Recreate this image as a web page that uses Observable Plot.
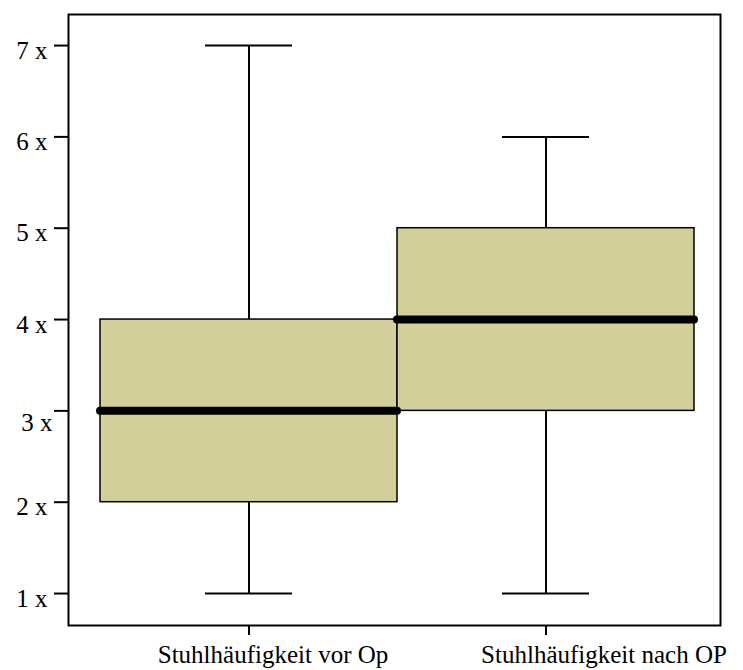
<!DOCTYPE html>
<html><head><meta charset="utf-8">
<script src="https://cdn.jsdelivr.net/npm/d3@7"></script>
<script src="https://cdn.jsdelivr.net/npm/@observablehq/plot@0.6"></script>
<style>body{margin:0;background:#fff}</style>
</head><body><div id="chart"></div>
<script>
const categories = ["Stuhlhäufigkeit vor Op", "Stuhlhäufigkeit nach OP"];
const mins = [1, 1];
const q1s = [2, 3];
const medians = [3, 4];
const q3s = [4, 5];
const maxs = [7, 6];
const yTicks = [1, 2, 3, 4, 5, 6, 7];

const data = categories.map((c, i) => ({cat: c, min: mins[i], q1: q1s[i], med: medians[i], q3: q3s[i], max: maxs[i]}));
const fmt = d => d + " x";

const chart = Plot.plot({
  width: 743, height: 670,
  marginLeft: 68, marginRight: 23, marginTop: 14, marginBottom: 45,
  style: {fontFamily: "'Liberation Serif', 'Times New Roman', serif", fontSize: "25px", background: "#fff", color: "#000"},
  x: {domain: categories, padding: 0, range: [100, 694]},
  y: {domain: [0.65, 7.34]},
  marks: [
    Plot.ruleX(data, {x: "cat", y1: "min", y2: "max", stroke: "#000", strokeWidth: 2}),
    Plot.tickY(data, {x: "cat", y: "min", stroke: "#000", strokeWidth: 2, insetLeft: 105, insetRight: 105}),
    Plot.tickY(data, {x: "cat", y: "max", stroke: "#000", strokeWidth: 2, insetLeft: 105, insetRight: 105}),
    Plot.barY(data, {x: "cat", y1: "q1", y2: "q3", fill: "#D3CE9A", stroke: "#000", strokeWidth: 1.5}),
    Plot.tickY(data, {x: "cat", y: "med", stroke: "#000", strokeWidth: 8, strokeLinecap: "round"}),
    Plot.frame({stroke: "#000", strokeWidth: 2}),
    Plot.axisY(yTicks, {tickFormat: () => "", tickSize: 14, strokeWidth: 2, label: null}),
    Plot.axisY(yTicks.filter(d => d !== 3), {tickFormat: fmt, tickSize: 0, tickPadding: 21, fontSize: 25, dy: 5, label: null, fill: "#000"}),
    Plot.axisY([3], {tickFormat: fmt, tickSize: 0, tickPadding: 16, fontSize: 25, dy: 12, label: null, fill: "#000"}),
    Plot.axisX({tickFormat: () => "", tickSize: 10, strokeWidth: 2, label: null}),
    Plot.axisX([categories[0]], {tickSize: 0, tickPadding: 20, fontSize: 25, dx: 24, label: null, fill: "#000"}),
    Plot.axisX([categories[1]], {tickSize: 0, tickPadding: 20, fontSize: 25, dx: 58, label: null, fill: "#000"})
  ]
});
document.getElementById("chart").appendChild(chart);
</script>
</body></html>
